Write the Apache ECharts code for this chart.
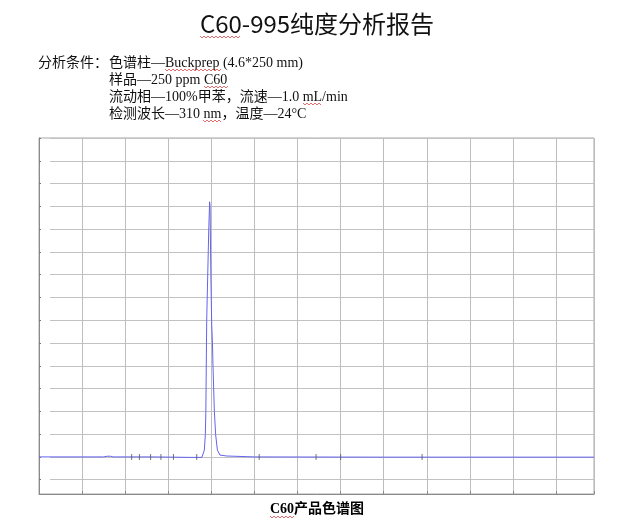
<!DOCTYPE html>
<html>
<head>
<meta charset="utf-8">
<script src="https://cdn.jsdelivr.net/npm/echarts@6/dist/echarts.min.js"></script>
<style>
html,body{margin:0;padding:0;background:#fff;}
#chart{width:631px;height:525px;}
</style>
</head>
<body>
<div id="chart"></div>
<script>
// ---- data ----
const titleText = "C60-995纯度分析报告";
const condLabel = "分析条件：";
const condLines = [
  "色谱柱—Buckprep (4.6*250 mm)",
  "样品—250 ppm C60",
  "流动相—100%甲苯，流速—1.0 mL/min",
  "检测波长—310 nm，温度—24°C"
];
const captionText = "C60产品色谱图";

// retention time (min) and detector signal (grid units)
const times  = [0, 1.50, 1.58, 1.62, 1.66, 1.72, 2.60, 3.10, 3.50, 3.78, 3.813, 3.837, 3.86, 3.872, 3.882, 3.892, 3.91, 3.928, 3.94, 3.96, 3.97, 3.976, 3.99, 4.008, 4.025, 4.038, 4.054, 4.07, 4.10, 4.14, 4.20, 4.36, 5.0, 8.0, 12.88];
const signal = [0, 0, 0.03, 0.07, 0.03, 0, 0, -0.01, -0.02, -0.02, 0, 0.3, 0.97, 1.98, 3.99, 6.0, 7.5, 9.0, 10.0, 11.2, 10.98, 9.96, 7.77, 5.8, 5.0, 3.99, 2.98, 1.98, 0.97, 0.3, 0.08, 0.04, 0.0, -0.01, -0.01];
// integration/event marks on the baseline
const markerTimes = [2.15, 2.33, 2.59, 2.83, 3.12, 3.66, 5.11, 6.43, 7.0, 8.89];

const xMax = 12.88;
const yMin = -1, yMax = 14;

const chart = echarts.init(document.getElementById('chart'), null, {renderer: 'canvas'});

const lineData = times.map((t, i) => [t, signal[i]]);
const markData = markerTimes.map(t => [t, 0]);

const serifCJK = "'Liberation Serif','Times New Roman','Noto Sans CJK SC',serif";

const graphics = [
  {type: 'text', x: 317, y: 24, style: {text: titleText, font: "24px 'Noto Sans CJK SC'", fill: '#111', textAlign: 'center', textVerticalAlign: 'middle'}},
  {type: 'text', x: 38, y: 63, style: {text: condLabel, font: "14px " + serifCJK, fill: '#111', textAlign: 'left', textVerticalAlign: 'middle'}},
  {type: 'text', x: 317, y: 509, style: {text: captionText, font: "bold 14px " + serifCJK, fill: '#000', textAlign: 'center', textVerticalAlign: 'middle'}}
];
condLines.forEach((s, i) => {
  graphics.push({type: 'text', x: 109, y: 63 + i * 17, style: {text: s, font: "14px " + serifCJK, fill: '#111', textAlign: 'left', textVerticalAlign: 'middle'}});
});

// red wavy "spell-check" underlines (text decoration)
function wave(x0, x1, y) {
  const pts = [];
  let up = true;
  for (let x = x0; x <= x1; x += 2) { pts.push([x, y + (up ? -1 : 1)]); up = !up; }
  return {type: 'polyline', shape: {points: pts}, style: {stroke: '#e04848', lineWidth: 0.8, fill: null}, z: 10};
}
[[200, 240, 37], [165, 221, 70], [204, 228, 87], [303, 322, 104], [203, 221, 121], [270, 294, 517]]
  .forEach(w => graphics.push(wave(w[0], w[1], w[2])));

const hiddenX = (gi) => ({type: 'value', gridIndex: gi, min: 0, max: xMax, interval: 1, show: false});

chart.setOption({
  animation: false,
  backgroundColor: '#fff',
  grid: [
    {left: 39, top: 138, right: 37, bottom: 31, show: true, borderColor: '#a8a8a8', borderWidth: 1, backgroundColor: 'transparent'},
    {left: 39, top: 138, right: 37, bottom: 45.3},
    {left: 50, top: 138, right: 37, bottom: 45.3}
  ],
  xAxis: [
    {type: 'value', gridIndex: 0, min: 0, max: xMax, interval: 1,
      axisLine: {show: true, onZero: false, lineStyle: {color: '#8a8a8a', width: 1}},
      axisTick: {show: true, inside: true, length: 3, lineStyle: {color: '#8a8a8a'}},
      axisLabel: {show: false},
      splitLine: {show: true, lineStyle: {color: '#bdbdbd', width: 1}}},
    hiddenX(1),
    hiddenX(2)
  ],
  yAxis: [
    {type: 'value', gridIndex: 0, min: 0, max: 1,
      axisLine: {show: true, lineStyle: {color: '#8a8a8a', width: 1}},
      axisTick: {show: false}, axisLabel: {show: false}, splitLine: {show: false}},
    {type: 'value', gridIndex: 1, min: yMin, max: yMax, interval: 1,
      axisLine: {show: false},
      axisTick: {show: true, inside: true, length: 2, lineStyle: {color: '#777'}},
      axisLabel: {show: false}, splitLine: {show: false}},
    {type: 'value', gridIndex: 2, min: yMin, max: yMax, interval: 1,
      axisLine: {show: false}, axisTick: {show: false}, axisLabel: {show: false},
      splitLine: {show: true, lineStyle: {color: '#c2c2c2', width: 1.2}}}
  ],
  series: [
    {type: 'line', xAxisIndex: 1, yAxisIndex: 1, data: lineData, showSymbol: false, symbol: 'none',
      lineStyle: {color: '#6464ee', width: 1}, z: 5},
    {type: 'scatter', xAxisIndex: 1, yAxisIndex: 1, data: markData, symbol: 'rect', symbolSize: [1, 6],
      itemStyle: {color: '#555'}, z: 6}
  ],
  graphic: graphics
});
</script>
</body>
</html>
